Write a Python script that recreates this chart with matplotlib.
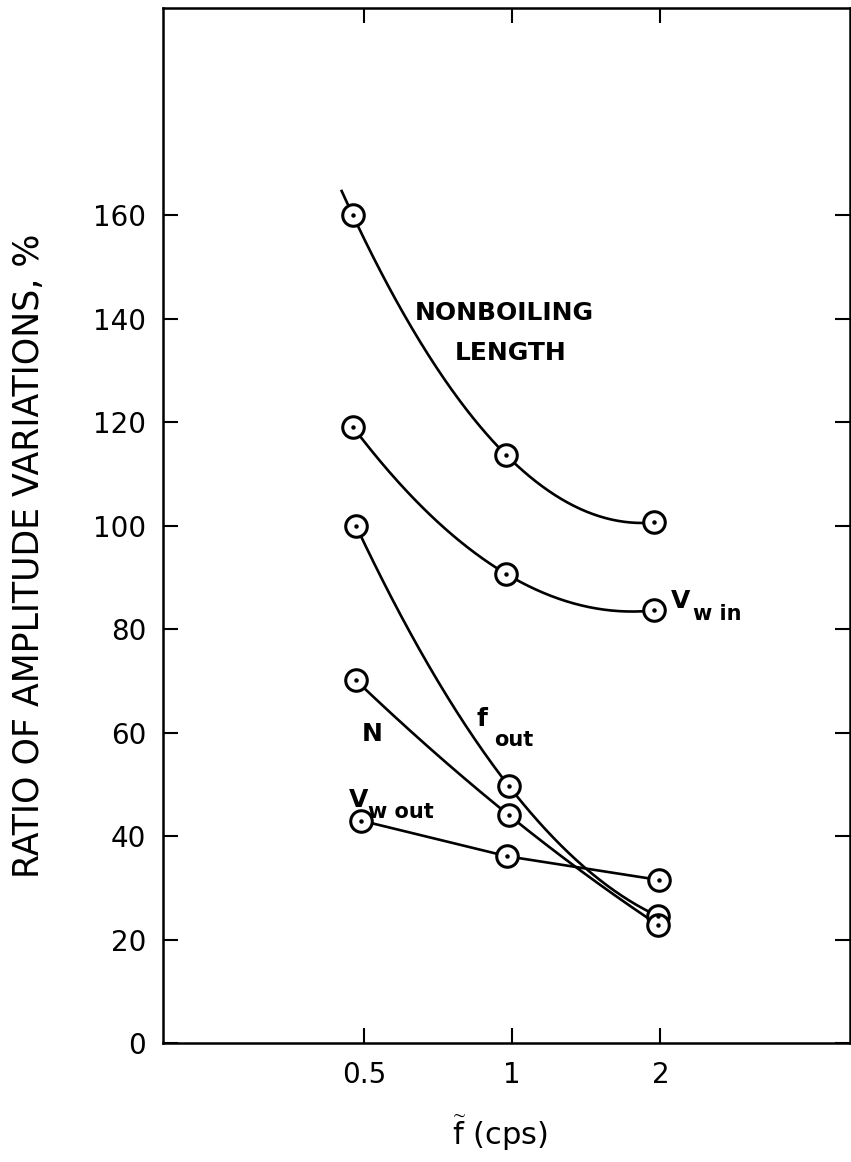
import numpy as np
import matplotlib
matplotlib.use("Agg")
import matplotlib.pyplot as plt

# frequency (cps) and ratio of amplitude variations (%)
nonboiling_x = [0.474, 0.97, 1.94]
nonboiling_y = [160.0, 113.7, 100.6]
vw_in_x = [0.474, 0.97, 1.94]
vw_in_y = [119.1, 90.7, 83.6]
f_out_x = [0.481, 0.985, 1.98]
f_out_y = [100.0, 49.6, 24.5]
n_x = [0.481, 0.985, 1.98]
n_y = [70.1, 44.0, 22.8]
vw_out_x = [0.492, 0.975, 1.99]
vw_out_y = [43.0, 36.1, 31.5]

x_ticks = [0.5, 1, 2]
x_tick_labels = ["0.5", "1", "2"]
y_ticks = [0, 20, 40, 60, 80, 100, 120, 140, 160]

INK = "black"

fig = plt.figure(figsize=(8.51, 11.62), dpi=100)
ax = fig.add_axes([0.1915, 0.1024, 0.807, 0.8906])


def smooth(xs, ys, x_start=None):
    """hand-drawn style curve: quadratic in log f through the three points"""
    lx = np.log(xs)
    coef = np.polyfit(lx, ys, 2)
    lo = np.log(x_start) if x_start else lx[0]
    grid = np.linspace(lo, lx[-1], 200)
    return np.exp(grid), np.polyval(coef, grid)


def points(xs, ys):
    ax.plot(xs, ys, "o", ms=15.5, mfc="white", mec=INK, mew=2.2, zorder=4)
    ax.plot(xs, ys, "o", ms=2.2, mfc=INK, mec=INK, zorder=5)


for xs, ys, start in [(nonboiling_x, nonboiling_y, 0.45),
                      (vw_in_x, vw_in_y, None),
                      (f_out_x, f_out_y, None),
                      (n_x, n_y, None)]:
    cx, cy = smooth(xs, ys, start)
    ax.plot(cx, cy, color=INK, lw=1.9, zorder=3)
    points(xs, ys)

ax.plot(vw_out_x, vw_out_y, color=INK, lw=1.9, zorder=3)
points(vw_out_x, vw_out_y)

ax.set_xscale("log")
ax.set_xlim(0.195, 4.85)
ax.set_ylim(0, 200)
ax.minorticks_off()
ax.set_xticks(x_ticks)
ax.set_xticklabels(x_tick_labels)
ax.set_yticks(y_ticks)
ax.tick_params(direction="in", length=11, width=1.5, top=True, right=True,
               labelsize=20, color=INK)
ax.tick_params(axis="y", pad=12)
ax.tick_params(axis="x", pad=13)
ax.tick_params(right=True, labelright=False, top=True, labeltop=False)
for s in ax.spines.values():
    s.set_linewidth(1.8)

lab = dict(color=INK, fontsize=18, fontweight="bold")
sub = dict(color=INK, fontsize=15, fontweight="bold", va="center")
ax.text(0.965, 141.1, "NONBOILING", ha="center", va="center", **lab)
ax.text(0.99, 133.4, "LENGTH", ha="center", va="center", **lab)

ax.text(2.1, 85.5, "V", ha="left", va="center", **lab)
ax.text(2.33, 83.0, "w in", ha="left", **sub)
ax.text(0.845, 62.7, "f", ha="left", va="center", **lab)
ax.text(0.92, 58.5, "out", ha="left", **sub)
ax.text(0.52, 59.8, "N", ha="center", va="center", **lab)
ax.text(0.465, 47.0, "V", ha="left", va="center", **lab)
ax.text(0.51, 44.6, "w out", ha="left", **sub)

ax.set_ylabel("RATIO OF AMPLITUDE VARIATIONS, %", fontsize=25, color=INK)
ax.yaxis.set_label_coords(-0.170, 0.471)
ax.set_xlabel(r"$\widetilde{\mathrm{f}}$ (cps)", fontsize=22, color=INK)
ax.xaxis.set_label_coords(0.49, -0.068)

fig.savefig("out.png", dpi=100, facecolor="white")
